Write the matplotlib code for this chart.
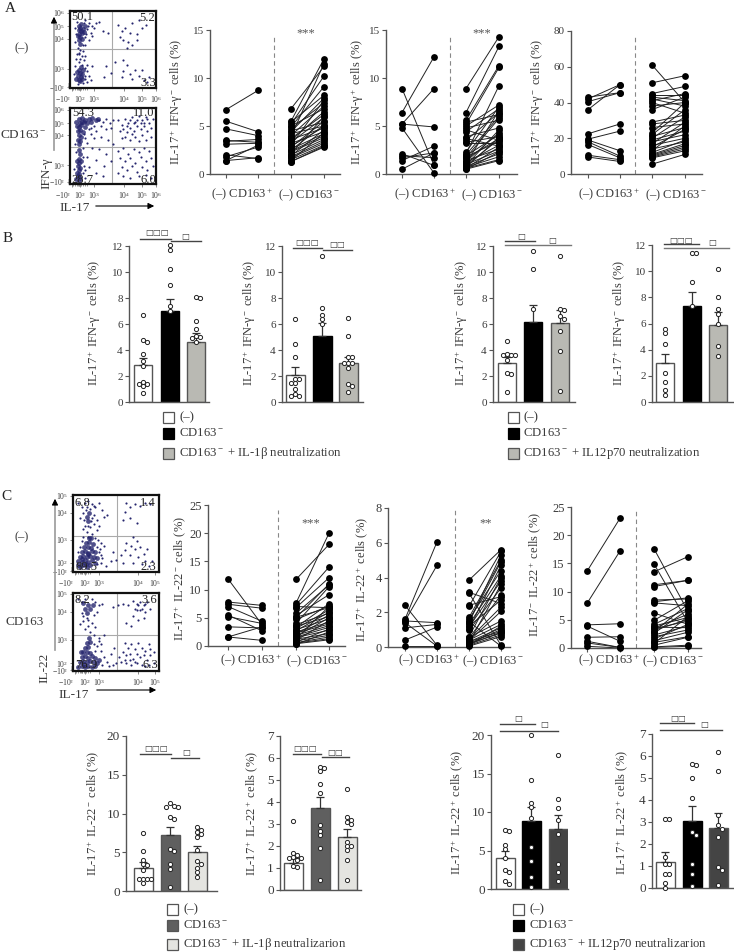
import numpy as np
import matplotlib
matplotlib.use('Agg')
import matplotlib.pyplot as plt

plt.rcParams['font.family'] = ['Liberation Serif', 'DejaVu Serif']
plt.rcParams['mathtext.fontset'] = 'custom'
plt.rcParams['mathtext.rm'] = 'Liberation Serif'
plt.rcParams['mathtext.it'] = 'Liberation Serif:italic'
plt.rcParams['mathtext.bf'] = 'Liberation Serif:bold'
plt.rcParams['mathtext.default'] = 'regular'

W, H = 734, 952
TXT = '#3a3a3a'
AXC = '#555555'
NAVY = '#25256e'

# paired before / after values, panel A
a1_pos_l = [6.7, 5.5, 4.7, 3.5, 3.4, 3.1, 2.0, 1.8, 1.4, 1.4]
a1_pos_r = [8.7, 4.4, 4.0, 3.3, 3.6, 3.2, 1.6, 2.8, 3.0, 1.7]
a1_neg_l = [6.8, 5.5, 5.4, 5.2, 5.0, 4.9, 4.7, 4.5, 4.4, 4.2, 4.0, 3.9, 3.7, 3.6, 3.5, 3.3, 3.2,
            3.0, 2.9, 2.8, 2.6, 2.5, 2.4, 2.3, 2.1, 2.0, 1.9, 1.8, 1.7, 1.5, 1.4, 1.3, 1.3]
a1_neg_r = [11.2, 12.0, 8.2, 10.2, 6.8, 9.1, 7.4, 5.4, 7.9, 5.0, 7.1, 11.5, 6.2, 4.8, 6.5, 5.9, 4.4,
            7.7, 4.9, 5.5, 4.2, 5.1, 4.0, 3.8, 6.0, 3.6, 4.6, 3.4, 3.2, 3.0, 4.3, 2.9, 2.8]
a2_pos_l = [6.4, 8.9, 5.2, 5.2, 4.8, 2.1, 1.9, 1.7, 1.4, 0.5]
a2_pos_r = [12.2, 0.9, 8.9, 4.9, 0.1, 0.9, 1.7, 2.2, 2.9, 2.2]
a2_neg_l = [8.9, 6.4, 5.6, 5.4, 5.2, 5.0, 4.8, 4.6, 4.4, 3.9, 3.7, 3.5, 3.3, 3.2, 2.3, 2.1, 2.0, 1.9,
            1.8, 1.7, 1.6, 1.4, 1.3, 1.2, 1.1, 1.0, 0.9, 0.9, 0.8, 0.7, 0.7, 0.6, 0.6, 0.5, 0.5]
a2_neg_r = [14.3, 13.3, 11.3, 6.2, 11.1, 7.2, 5.6, 3.5, 6.8, 4.8, 2.9, 6.4, 3.9, 3.2, 7.0, 9.2, 6.0, 4.1,
            3.4, 5.8, 3.7, 2.6, 4.3, 3.0, 6.6, 2.4, 4.6, 3.6, 2.1, 3.8, 1.8, 2.8, 1.5, 2.3, 1.4]
a3_pos_l = [43, 42, 40.5, 36, 22.5, 19.5, 19, 18, 16.5, 10.5, 9.5]
a3_pos_r = [45.5, 50, 45.5, 50, 28, 24, 13, 10, 9, 8, 7]
a3_neg_l = [61, 51, 45, 44, 43, 42, 41, 40, 38, 36, 29, 28, 26, 23, 22, 21, 20, 19, 18, 17,
            16, 15, 14, 13, 12, 11, 10.5, 10, 9.5, 9, 5.5]
a3_neg_r = [40, 55, 49, 44, 41, 38, 45, 34, 40, 43, 33, 30, 28, 40, 36, 26, 32, 24, 22, 29,
            20, 25, 18, 27, 19, 17, 16, 15, 14, 13, 11]

# paired before / after values, panel C
c1_pos_l = [11.9, 7.8, 7.4, 7.0, 5.5, 5.2, 3.4, 1.6, 1.6]
c1_pos_r = [3.8, 7.2, 6.7, 4.4, 2.7, 4.0, 3.2, 3.4, 1.0]
c1_neg_l = [11.8, 7.6, 7.3, 7.0, 6.8, 5.8, 5.4, 5.1, 5.0, 4.7, 4.0, 3.8, 3.5, 3.3, 3.1, 2.9, 2.7,
            2.5, 2.3, 2.1, 1.9, 1.7, 1.6, 1.5, 1.3, 1.2, 1.0, 0.9, 0.7, 0.6, 0.5, 0.4, 0.3]
c1_neg_r = [18, 20, 14, 6.8, 12.1, 10.8, 9.1, 6.8, 11, 7.1, 10.5, 5.8, 5.2, 7.5, 6.4, 4.8, 6,
            4.2, 3.9, 5.5, 3.6, 5, 3.3, 2.8, 7, 2.2, 4.5, 1.9, 3, 1.6, 1.3, 1.1, 2.5]
c2_pos_l = [2.4, 1.6, 1.5, 1.5, 1.4, 1.1, 0.4, 0.05]
c2_pos_r = [0.1, 6.05, 4.7, 1.4, 0.05, 1.3, 1.15, 0.05]
c2_neg_l = [3.85, 3.15, 3.1, 2.4, 2.35, 1.7, 1.6, 1.5, 1.45, 1.4, 1.3, 1.2, 1.15, 1.05, 0.95,
            0.6, 0.55, 0.5, 0.45, 0.4, 0.35, 0.3, 0.3, 0.25, 0.2, 0.2, 0.15, 0.1, 0.1, 0.05]
c2_neg_r = [5.6, 2.5, 0.1, 2.9, 5.5, 5.0, 4.4, 4.9, 0.05, 5.3, 4.1, 2.7, 3.8, 4.7, 3.4,
            4.0, 1.5, 3.0, 2.3, 1.3, 2.05, 0.9, 1.1, 3.6, 1.0, 0.8, 0.85, 0.7, 1.2, 0.6]
c3_pos_l = [13.6, 7.9, 4.1, 3.9, 1.9, 1.2, 0.9, 0.3]
c3_pos_r = [23, 17.2, 4.3, 1.2, 2.0, 0.1, 0.1, 0]
c3_neg_l = [17.6, 14.9, 13.5, 11.2, 10.9, 8.5, 8.2, 8.0, 6.2, 4.9, 4.2, 3.9, 3.7, 3.5, 3.4, 3.1,
            2.9, 2.6, 2.3, 2.0, 1.6, 1.3, 1.0, 0.8, 0.5, 0.2, 0.1]
c3_neg_r = [6.5, 4.5, 16.2, 12, 12, 8.7, 8.9, 7.5, 4.2, 8.4, 7, 5.4, 3.6, 6, 4.8, 5.1,
            7.8, 6.8, 3.9, 3.2, 4.2, 2.8, 2, 5.6, 1.9, 0.5, 0.3]

# bar heights, upper error and single donors, panel B
b1_means, b1_errs = [2.85, 7.0, 4.65], [0.55, 0.9, 0.65]
b1_pts = [[6.7, 4.78, 4.65, 3.67, 3.16, 2.8, 1.57, 1.39, 1.36, 1.26, 0.67],
          [12.1, 11.7, 10.2, 9.0, 7.4, 7.0],
          [8.05, 8.0, 6.2, 5.6, 5.1, 5.0, 4.9, 4.6]]
b2_means, b2_errs = [2.1, 5.1, 3.0], [0.6, 0.95, 0.5]
b2_pts = [[6.4, 4.45, 3.5, 1.8, 1.75, 1.5, 1.5, 1.0, 0.6, 0.5, 0.5],
          [11.25, 7.2, 6.7, 6.35, 6.0],
          [6.5, 5.1, 3.5, 3.5, 3.0, 3.0, 3.0, 2.6, 1.35, 1.25, 0.8]]
b3_means, b3_errs = [3.0, 6.15, 6.05], [0.5, 1.3, 1.05]
b3_pts = [[4.7, 3.7, 3.65, 3.65, 3.6, 3.2, 2.25, 2.15, 0.8],
          [11.65, 10.25, 7.15],
          [11.25, 7.15, 7.1, 6.6, 6.35, 5.5, 3.9, 0.85]]
b4_means, b4_errs = [3.0, 7.3, 5.9], [0.7, 1.1, 1.0]
b4_pts = [[5.6, 5.3, 4.4, 2.2, 1.5, 0.9, 0.55],
          [11.4, 11.4, 9.2, 7.3],
          [10.2, 8.0, 7.1, 6.7, 6.0, 4.3, 3.5]]

# same, lower bar row
d1_means, d1_errs = [3.0, 7.2, 5.0], [0.75, 1.05, 0.8]
d1_pts = [[7.5, 5.2, 4.0, 3.5, 3.4, 2.65, 1.6, 1.6, 1.5, 1.5, 1.0],
          [11.3, 11.0, 10.9, 10.9, 9.5, 9.3, 5.4, 5.2, 3.5, 2.9, 0.5],
          [8.2, 7.9, 7.6, 7.4, 7.0, 5.3, 3.9, 3.5, 3.0, 2.5, 1.8]]
d2_means, d2_errs = [1.25, 3.75, 2.4], [0.2, 0.5, 0.38]
d2_pts = [[3.15, 1.7, 1.6, 1.5, 1.45, 1.45, 1.35, 1.1, 1.05],
          [5.6, 5.55, 5.4, 4.8, 4.4, 2.95, 2.7, 2.5, 1.9, 0.45],
          [4.6, 3.3, 3.2, 3.1, 3.0, 2.2, 2.0, 2.0, 1.8, 1.35, 0.45]]
d3_means, d3_errs = [4.0, 8.8, 7.8], [0.9, 1.9, 1.8]
d3_pts = [[7.6, 7.5, 5.7, 5.2, 4.0, 2.5, 2.2, 1.0, 0.7],
          [20, 14.2, 11.2, 10.7, 9.2, 5.4, 3.7, 1.5, 0.3],
          [17.4, 11.7, 10.5, 9.0, 7.2, 3.2, 2.2, 1.0]]
d4_means, d4_errs = [1.2, 3.05, 2.75], [0.45, 0.7, 0.65]
d4_pts = [[3.15, 3.15, 1.4, 1.1, 1.1, 0.65, 0.65, 0.25, 0.0],
          [5.65, 5.6, 5.0, 4.1, 2.55, 2.4, 1.1, 0.65, 0.1],
          [6.2, 5.3, 3.3, 2.85, 2.7, 2.3, 0.95, 0.8, 0.15]]

# flow plots, events read in channel units (0-100 on both axes)
fa1_dense = [(12, 78), (13, 74), (11, 70), (14, 71), (12, 66), (10, 75), (15, 77), (13, 83), (11, 62), (12, 57),
             (14, 64), (9, 67), (16, 73), (11, 24), (12, 20), (9, 16), (13, 14), (14, 18), (11, 11), (8, 21),
             (13, 27), (15, 23), (12, 9), (17, 80), (10, 81), (14, 12), (7, 12)]
fa1_sparse = [(8, 86), (18, 88), (22, 84), (26, 80), (30, 84), (34, 86), (20, 76), (24, 72), (28, 78), (38, 74),
              (44, 72), (18, 66), (22, 62), (26, 68), (18, 56), (12, 50), (10, 46), (14, 42), (8, 44), (12, 38),
              (16, 36), (10, 34), (14, 30), (20, 30), (25, 28), (18, 12), (22, 16), (24, 10), (42, 28), (48, 20),
              (40, 14), (56, 82), (60, 74), (64, 78), (70, 72), (72, 84), (80, 88), (84, 78), (78, 70), (88, 82),
              (62, 62), (68, 60), (72, 56), (66, 52), (58, 66), (78, 62), (52, 34), (62, 36), (66, 30), (62, 22),
              (70, 18), (76, 24), (80, 16), (84, 24), (60, 14), (90, 8), (92, 14), (86, 10), (72, 12),
              (6, 78), (7, 70), (19, 70), (21, 81), (16, 84), (6, 60), (15, 56), (9, 52), (15, 48), (7, 38),
              (11, 44), (17, 42), (18, 26), (20, 22), (17, 16), (6, 28), (5, 18), (20, 8), (15, 6), (9, 5)]
fa2_dense = [(10, 85), (14, 87), (18, 84), (22, 85), (26, 87), (30, 84), (12, 80), (16, 82), (20, 80), (24, 82),
             (10, 75), (13, 77), (17, 75), (9, 70), (12, 71), (15, 68), (10, 64), (13, 62), (9, 58), (12, 56),
             (11, 52), (10, 45), (12, 39), (10, 33), (11, 28), (9, 24), (12, 21), (10, 18), (8, 14), (11, 13),
             (9, 10), (12, 8), (7, 6), (10, 4), (7, 82), (33, 86), (14, 82), (8, 76), (13, 30), (8, 30)]
fa2_sparse = [(34, 84), (38, 82), (42, 86), (46, 80), (50, 84), (36, 76), (42, 72), (48, 74), (30, 70), (24, 66),
              (28, 60), (36, 62), (44, 58), (20, 54), (26, 48), (34, 46), (42, 40), (50, 52), (20, 36), (30, 32),
              (40, 24), (48, 30), (22, 22), (30, 14), (38, 10), (18, 8),
              (56, 84), (60, 78), (64, 86), (68, 80), (72, 88), (76, 82), (80, 90), (84, 84), (88, 88), (92, 80),
              (58, 70), (62, 72), (66, 68), (70, 74), (74, 70), (78, 76), (82, 72), (86, 76), (90, 70), (94, 74),
              (60, 60), (64, 62), (70, 58), (76, 62), (80, 56), (84, 64), (88, 58), (94, 62), (72, 66), (96, 86),
              (56, 44), (62, 48), (68, 40), (74, 46), (80, 42), (86, 48), (92, 44), (58, 34), (64, 30), (70, 34),
              (76, 28), (82, 36), (88, 30), (94, 34), (60, 22), (66, 18), (72, 24), (78, 16), (84, 22), (90, 18),
              (62, 10), (70, 8), (80, 10), (88, 12), (94, 8), (56, 14), (96, 24),
              (74, 80), (82, 80), (70, 84), (78, 84), (86, 80), (66, 76), (90, 86), (16, 66), (18, 60), (6, 52),
              (15, 48), (7, 42), (15, 36), (16, 24), (15, 14), (17, 18), (5, 20), (24, 74), (28, 76), (22, 72)]
fc1_dense = [(8, 7), (12, 9), (16, 7), (20, 9), (6, 14), (10, 13), (14, 15), (18, 13), (22, 15), (26, 12),
             (8, 20), (12, 21), (16, 19), (20, 21), (24, 20), (10, 26), (14, 27), (18, 25), (22, 27), (13, 32),
             (17, 33), (21, 31), (15, 38), (19, 39), (23, 36), (19, 44), (16, 72), (19, 77), (18, 66), (28, 18),
             (15, 10), (11, 17), (17, 23), (25, 26), (6, 9), (21, 44)]
fc1_sparse = [(6, 90), (10, 84), (14, 90), (18, 92), (22, 88), (26, 84), (30, 90), (34, 80), (12, 76), (24, 74),
              (28, 68), (36, 72), (40, 74), (14, 60), (20, 58), (24, 62), (16, 52), (22, 50), (28, 54), (18, 46),
              (26, 44), (32, 38), (36, 34), (30, 26), (34, 18), (28, 10), (38, 8), (44, 14), (46, 26), (50, 16),
              (56, 22), (62, 90), (66, 84), (72, 88), (78, 86), (84, 90), (90, 88), (60, 78), (66, 70), (74, 64),
              (58, 68), (70, 46), (62, 38), (68, 34), (72, 30), (78, 32), (60, 28), (66, 22), (76, 20), (82, 24),
              (86, 30), (70, 12), (80, 10), (88, 8), (92, 14), (58, 12), (74, 40), (84, 14),
              (16, 84), (20, 82), (13, 68), (22, 70), (12, 56), (17, 60), (21, 66), (30, 60), (29, 42), (28, 32),
              (31, 30), (32, 22), (33, 12), (8, 32), (6, 26), (10, 40), (12, 46), (24, 86), (15, 80), (8, 70)]
fc2_dense = [(6, 5), (10, 7), (14, 5), (18, 7), (22, 5), (26, 7), (8, 12), (12, 13), (16, 11), (20, 13),
             (24, 11), (28, 10), (10, 18), (14, 19), (18, 17), (22, 19), (12, 24), (16, 25), (20, 23), (14, 30),
             (18, 31), (16, 36), (20, 37), (14, 80), (17, 85), (20, 80), (16, 75), (23, 84), (13, 9), (25, 17),
             (9, 25), (19, 42), (12, 87), (30, 14)]
fc2_sparse = [(6, 92), (10, 88), (14, 92), (22, 92), (26, 88), (30, 84), (10, 74), (24, 72), (28, 76), (34, 86),
              (12, 64), (18, 66), (22, 62), (26, 56), (14, 54), (20, 50), (24, 46), (30, 42), (36, 46), (28, 32),
              (32, 26), (36, 18), (40, 12), (34, 8), (46, 82), (52, 84), (58, 86), (64, 84), (70, 90), (74, 86),
              (78, 88), (82, 84), (86, 88), (72, 80), (78, 78), (84, 76), (90, 80), (70, 70), (76, 66), (82, 68),
              (62, 62), (68, 58), (60, 36), (64, 30), (68, 34), (72, 28), (76, 36), (80, 30), (84, 26), (88, 34),
              (58, 24), (62, 20), (66, 22), (70, 16), (74, 22), (78, 18), (82, 20), (86, 14), (90, 20), (94, 24),
              (56, 12), (62, 10), (68, 8), (74, 10), (80, 8), (88, 8), (94, 10), (50, 10), (44, 22), (48, 30),
              (76, 84), (80, 80), (84, 86), (74, 78), (18, 58), (12, 70), (16, 68), (8, 60), (24, 34), (26, 26),
              (30, 38), (33, 34), (42, 6), (46, 8), (66, 14), (72, 12), (84, 6), (90, 28), (60, 14), (54, 18)]

fa1_pct = ['50.1', '5.2', '3.3']
fa2_pct = ['54.3', '11.0', '28.7', '6.0']
fc1_pct = ['6.8', '1.4', '89.5', '2.3']
fc2_pct = ['8.2', '3.6', '76.9', '6.3']
a_ylab_x = ['$-10^2$', '$10^2$', '$10^3$', '$10^4$', '$10^5$', '$10^6$']
a_ylab_y = ['$-10^2$', '$10^3$', '$10^4$', '$10^5$', '$10^6$']
c_lab_x = ['$-10^2$', '$10^2$', '$10^3$', '$10^4$', '$10^5$']
c_lab_y = ['$-10^2$', '$10^2$', '$10^3$', '$10^4$', '$10^5$']

LAB_17_Y = 'IL-17$^+$ IFN-γ$^-$ cells (%)'
LAB_17_YP = 'IL-17$^+$ IFN-γ$^+$ cells (%)'
LAB_17N_Y = 'IL-17$^+$ IFN-γ$^-$ cells (%)'
LAB_22N = 'IL-17$^+$ IL-22$^-$ cells (%)'
LAB_22P = 'IL-17$^+$ IL-22$^+$ cells (%)'
LAB_22M = 'IL-17$^-$ IL-22$^+$ cells (%)'
CAT_POS = '(–) CD163$^+$'
CAT_NEG = '(–) CD163$^-$'

fig = plt.figure(figsize=(W / 100, H / 100), dpi=100, facecolor='white')

over = fig.add_axes([0, 0, 1, 1], zorder=10)
over.set_xlim(0, W)
over.set_ylim(H, 0)
over.axis('off')
over.patch.set_alpha(0)


def px_axes(left, right, top, bottom):
    return fig.add_axes([left / W, 1 - bottom / H, (right - left) / W, (bottom - top) / H])


def label(x, y, s, size=9, rot=0, ha='center', color=TXT):
    over.text(x, y, s, fontsize=size, rotation=rot, ha=ha, va='center', color=color)


def base_axes(left, right, top, bottom, ymax, step, tick_size):
    ax = px_axes(left, right, top, bottom)
    ax.set_xlim(left, right)
    ax.set_ylim(0, ymax)
    ax.patch.set_alpha(0)
    ax.spines['top'].set_visible(False)
    ax.spines['right'].set_visible(False)
    ax.spines['left'].set_color(AXC)
    ax.spines['bottom'].set_color(AXC)
    ax.spines['left'].set_linewidth(1.0)
    ax.spines['bottom'].set_linewidth(1.0)
    ax.set_yticks(np.arange(0, ymax + 0.01, step))
    ax.tick_params(axis='y', length=3, width=0.8, color=AXC, labelsize=tick_size, labelcolor=TXT, pad=1.5)
    ax.tick_params(axis='x', length=3, width=0.8, color=AXC)
    return ax


def paired(left, right, top, bottom, ymax, step, cats, dash_x, dash_top, groups, tick_size):
    ax = base_axes(left, right, top, bottom, ymax, step, tick_size)
    ax.set_xticks(cats)
    ax.set_xticklabels([])
    ax.plot([dash_x, dash_x], [0, ymax * (bottom - dash_top) / (bottom - top)], color='#888888', lw=0.8, ls=(0, (4, 3)))
    for (x0, x1), (ls, rs) in zip((cats[:2], cats[2:]), groups):
        for a, b in zip(ls, rs):
            ax.plot([x0, x1], [a, b], color='#222222', lw=0.7, zorder=2)
        ax.scatter([x0] * len(ls), ls, s=24, color='black', zorder=3, clip_on=False, lw=0)
        ax.scatter([x1] * len(rs), rs, s=24, color='black', zorder=3, clip_on=False, lw=0)
    return ax


def swarm(vals, cx, scale):
    # spread equal values sideways like the prism dot plots
    placed = []
    xs = []
    for v in sorted(vals, reverse=True):
        for off in (0, 4, -4, 8, -8, 12, -12):
            ok = True
            for po, pv in placed:
                if np.hypot(off - po, (v - pv) * scale) < 3.6:
                    ok = False
            if ok:
                break
        placed.append((off, v))
        xs.append(cx + off)
    return xs, sorted(vals, reverse=True)


def bars(left, right, top, bottom, ymax, step, centers, width, means, errs, pts, colors, tick_size):
    ax = base_axes(left, right, top, bottom, ymax, step, tick_size)
    ax.set_xticks([])
    scale = (bottom - top) / ymax
    for cx, m, e, p, c in zip(centers, means, errs, pts, colors):
        edge = 'black' if c == 'black' else '#555555'
        ax.bar(cx, m, width=width, color=c, edgecolor=edge, lw=1.0, zorder=2)
        ax.errorbar(cx, m, yerr=[[0], [e]], color='#333333', lw=0.9, capsize=3, capthick=0.9, zorder=3)
        xs, ys = swarm(p, cx, scale)
        ax.plot(xs, ys, 'o', ms=3.0, mfc='white', mec='#222222', mew=0.7, zorder=4, clip_on=False, ls='none')
    return ax


def flow(left, right, top, bottom, cross_x, cross_y, dense, sparse, xt, yt, xlab, ylab):
    ax = px_axes(left, right, top, bottom)
    ax.set_xlim(0, 100)
    ax.set_ylim(0, 100)
    for s in ax.spines.values():
        s.set_linewidth(1.6)
        s.set_color('#111111')
    ax.axvline(cross_x, color='#aaaaaa', lw=0.8, zorder=1)
    ax.axhline(cross_y, color='#aaaaaa', lw=0.8, zorder=1)
    d = np.array(dense)
    s = np.array(sparse)
    ax.scatter(d[:, 0], d[:, 1], s=12, color=NAVY, alpha=0.8, lw=0, zorder=2)
    ax.scatter(s[:, 0], s[:, 1], s=2.4, color=NAVY, lw=0, zorder=2)
    ax.set_xticks(xt)
    ax.set_xticklabels(xlab, fontsize=5.5, color=TXT)
    ax.set_yticks(yt)
    ax.set_yticklabels(ylab, fontsize=5.5, color=TXT)
    ax.get_xticklabels()[0].set_ha('right')
    ax.set_xticks([4, 6, 8, 9, 10, 11, 13, 15, 17, 20], minor=True)
    ax.set_yticks([1, 2, 3, 4, 5, 6], minor=True)
    ax.tick_params(which='major', length=2, width=0.6, color='#777777', pad=1.5)
    ax.tick_params(axis='x', which='major', pad=2.5)
    ax.tick_params(which='minor', length=1.5, width=0.6, color='#888888')
    return ax


def sig(x0, x1, y, marks, mx, my, color='#444444'):
    over.plot([x0, x1], [y, y], color=color, lw=1.0)
    over.text(mx, my, marks, fontsize=6, ha='center', va='center', color=TXT,
              family=['DejaVu Sans'])


def legend(box_x, text_x, ys, names, colors):
    for y, n, c in zip(ys, names, colors):
        over.add_patch(plt.Rectangle((box_x, y - 5.5), 11, 11, facecolor=c,
                                     edgecolor='black' if c == 'black' else '#555555', lw=0.9))
        label(text_x, y, n, size=9.2, ha='left')


# panel letters and side text
label(10, 8, 'A', size=11, color='#222222')
label(8, 239, 'B', size=11, color='#222222')
label(6, 496, 'C', size=11, color='#222222')
label(22, 48, '(–)', size=9)
label(23, 135, 'CD163$^-$', size=9.5)
label(22, 537, '(–)', size=9)
label(25, 622, 'CD163', size=9.5)

# flow plots, panel A
flow(70, 156, 11, 88, 49, 51, fa1_dense, fa1_sparse, [2, 12, 28, 63, 84, 100], [1, 25, 64, 80, 98], a_ylab_x, a_ylab_y)
flow(70, 156, 108, 184, 49, 49, fa2_dense, fa2_sparse, [2, 12, 28, 63, 84, 100], [3, 25, 64, 80, 98], a_ylab_x, a_ylab_y)
for (x, y), t in zip([(82, 17), (147, 18), (148, 83)], fa1_pct):
    label(x, y, t, size=9, color='#222222')
for (x, y), t in zip([(83, 113), (144, 113), (83, 180), (148, 180)], fa2_pct):
    label(x, y, t, size=9, color='#222222')
over.plot([54, 54], [20, 150], color='#999999', lw=1.2)
over.annotate('', xy=(54, 14), xytext=(54, 24), arrowprops=dict(arrowstyle='-|>', color='black', lw=0.8, mutation_scale=9))
label(46, 173, 'IFN-γ', size=9.5, rot=90)
label(75, 208, 'IL-17', size=9.5)
over.annotate('', xy=(157, 206), xytext=(93, 206), arrowprops=dict(arrowstyle='-|>', color='black', lw=0.8, mutation_scale=9))

# flow plots, panel C
flow(73, 159, 495, 572, 51, 47, fc1_dense, fc1_sparse, [2, 14, 30, 76, 95], [1, 12, 42, 77, 99], c_lab_x, c_lab_y)
flow(73, 159, 593, 671, 51, 46, fc2_dense, fc2_sparse, [2, 14, 30, 76, 95], [1, 10, 40, 76, 99], c_lab_x, c_lab_y)
for (x, y), t in zip([(82, 503), (148, 503), (86, 567), (148, 567)], fc1_pct):
    label(x, y, t, size=9, color='#222222')
for (x, y), t in zip([(82, 600), (149, 600), (86, 665), (150, 665)], fc2_pct):
    label(x, y, t, size=9, color='#222222')
over.plot([55, 55], [502, 650], color='#999999', lw=1.2)
over.annotate('', xy=(55, 496), xytext=(55, 506), arrowprops=dict(arrowstyle='-|>', color='black', lw=0.8, mutation_scale=9))
label(44, 668, 'IL-22', size=9.5, rot=90)
label(74, 695, 'IL-17', size=9.5)
over.annotate('', xy=(159, 690), xytext=(94, 690), arrowprops=dict(arrowstyle='-|>', color='black', lw=0.8, mutation_scale=9))

# paired plots, panel A
paired(210, 340, 30, 174, 15, 5, [226, 258, 291, 324], 274, 37, [(a1_pos_l, a1_pos_r), (a1_neg_l, a1_neg_r)], 8)
paired(386, 517, 30, 174, 15, 5, [402, 434, 466, 499], 450, 37, [(a2_pos_l, a2_pos_r), (a2_neg_l, a2_neg_r)], 8)
paired(571, 702, 31, 174, 80, 20, [588, 620, 652, 685], 635, 37, [(a3_pos_l, a3_pos_r), (a3_neg_l, a3_neg_r)], 8)
label(177, 102, LAB_17_Y, rot=90)
label(358, 102, LAB_17_YP, rot=90)
label(538, 102, LAB_17N_Y, rot=90)
label(306, 33, '***', size=9, color='#555555')
label(482, 33, '***', size=9, color='#555555')
for x, t in [(242, CAT_POS), (309, CAT_NEG), (425, CAT_POS), (492, CAT_NEG), (609, CAT_POS), (676, CAT_NEG)]:
    label(x, 195, t)

# paired plots, panel C
paired(208, 345, 505, 646, 25, 5, [228, 262, 296, 329], 278, 510, [(c1_pos_l, c1_pos_r), (c1_neg_l, c1_neg_r)], 9)
paired(388, 510, 508, 647, 8, 2, [405, 437, 469, 501], 455, 510, [(c2_pos_l, c2_pos_r), (c2_neg_l, c2_neg_r)], 9)
paired(571, 701, 507, 648, 25, 5, [587, 620, 654, 688], 636, 510, [(c3_pos_l, c3_pos_r), (c3_neg_l, c3_neg_r)], 9)
label(181, 578, LAB_22N, rot=90)
label(363, 579, LAB_22P, rot=90)
label(536, 574, LAB_22M, rot=90)
label(311, 523, '***', size=9, color='#555555')
label(486, 523, '**', size=9, color='#555555')
for x, t in [(251, CAT_POS), (317, CAT_NEG), (429, CAT_POS), (493, CAT_NEG), (609, CAT_POS), (673, CAT_NEG)]:
    label(x, 661, t)

# bar row B
cols_b = ['white', 'black', '#b9b9b3']
bars(129, 209, 246, 402, 12, 2, [143, 170, 196], 18, b1_means, b1_errs, b1_pts, cols_b, 8)
bars(282, 363, 246, 402, 12, 2, [295, 322, 348], 19, b2_means, b2_errs, b2_pts, cols_b, 8)
bars(493, 575, 246, 402, 12, 2, [507, 533, 560], 18, b3_means, b3_errs, b3_pts, cols_b, 8)
bars(652, 734, 245, 402, 12, 2, [665, 692, 718], 18, b4_means, b4_errs, b4_pts, cols_b, 8)
for x in (95, 250, 462, 620):
    label(x, 323, LAB_17_Y, rot=90)
sig(140, 171, 239, '□□□', 157, 233)
sig(171, 201, 241, '□', 185, 236)
sig(293, 322, 248, '□□□', 307, 243)
sig(323, 352, 250, '□□', 337, 245)
sig(505, 535, 241, '□', 521, 236)
sig(505, 571, 245, '□', 552, 241, color='#777777')
sig(664, 699, 244, '□□□', 681, 240)
sig(664, 729, 248, '□', 712, 243, color='#777777')
legend(163, 179, [417, 433, 453], ['(–)', 'CD163$^-$', 'CD163$^-$ + IL-1β neutralization'], cols_b)
legend(508, 523, [417, 433, 453], ['(–)', 'CD163$^-$', 'CD163$^-$ + IL12p70 neutralization'], cols_b)

# bar row C
cols_d1 = ['white', '#5f5f5f', '#e4e4e0']
cols_d2 = ['white', 'black', '#444444']
bars(126, 217, 736, 891, 20, 5, [143, 170, 197], 19, d1_means, d1_errs, d1_pts, cols_d1, 9.5)
bars(280, 361, 736, 890, 7, 1, [293, 320, 347], 19, d2_means, d2_errs, d2_pts, cols_d1, 9.5)
bars(491, 568, 735, 889, 20, 5, [505, 531, 558], 19, d3_means, d3_errs, d3_pts, cols_d2, 9.5)
bars(652, 734, 734, 888, 7, 1, [665, 692, 718], 19, d4_means, d4_errs, d4_pts, cols_d2, 9.5)
label(94, 813, LAB_22N, rot=90)
label(253, 813, LAB_22P, rot=90)
label(458, 812, LAB_22P, rot=90)
label(623, 812, LAB_22P, rot=90)
sig(140, 171, 754, '□□□', 156, 749)
sig(171, 199, 758, '□', 186, 753)
sig(293, 321, 754, '□□□', 305, 749)
sig(322, 349, 757, '□□', 335, 752)
sig(500, 535, 724, '□', 518, 719)
sig(500, 558, 731, '□', 544, 725)
sig(660, 694, 723, '□□', 678, 718)
sig(660, 722, 730, '□', 704, 725)
legend(167, 183, [909, 925, 944], ['(–)', 'CD163$^-$', 'CD163$^-$ + IL-1β neutralizarion'], cols_d1)
legend(513, 529, [909, 925, 944], ['(–)', 'CD163$^-$', 'CD163$^-$ + IL12p70 neutralizarion'], cols_d2)

fig.savefig('out.png', dpi=100)
plt.close()
